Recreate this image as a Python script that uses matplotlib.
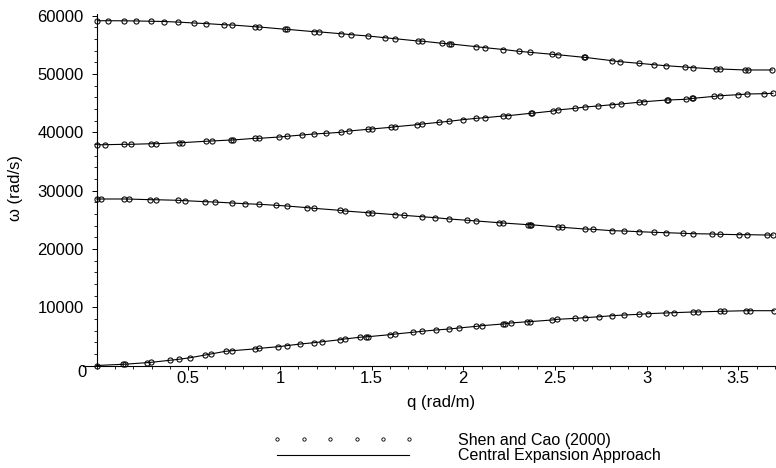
import matplotlib
matplotlib.use("Agg")
import matplotlib.pyplot as plt
from matplotlib.lines import Line2D
from matplotlib.ticker import MultipleLocator, FixedLocator

plt.rcParams['font.family'] = ['Liberation Sans', 'DejaVu Sans']

# ---- data (q in rad/m, omega in rad/s) ----
q1 = [0.0, 0.145, 0.152, 0.272, 0.299, 0.398, 0.447, 0.511, 0.592, 0.623, 0.703, 0.741, 0.864, 0.888,
      0.991, 1.036, 1.112, 1.185, 1.232, 1.33, 1.353, 1.435, 1.471, 1.48, 1.598, 1.629, 1.725, 1.776,
      1.851, 1.924, 1.975, 2.072, 2.101, 2.217, 2.225, 2.259, 2.35, 2.362, 2.482, 2.513, 2.612, 2.663,
      2.743, 2.812, 2.875, 2.96, 3.007, 3.105, 3.147, 3.255, 3.283, 3.4, 3.424, 3.545, 3.564, 3.696]
w1 = [0, 210, 220, 480, 550, 890, 1060, 1340, 1800, 1970, 2440, 2540, 2850, 2950,
      3220, 3400, 3690, 3910, 4080, 4430, 4550, 4840, 4920, 4940, 5280, 5400, 5700, 5870,
      6090, 6260, 6430, 6720, 6830, 7120, 7130, 7290, 7510, 7520, 7800, 7920, 8090, 8200,
      8370, 8540, 8660, 8780, 8890, 9010, 9060, 9180, 9190, 9300, 9310, 9400, 9400, 9400]

q2 = [0.0, 0.022, 0.148, 0.176, 0.293, 0.326, 0.442, 0.484, 0.592, 0.645, 0.741, 0.808, 0.888, 0.978,
      1.036, 1.15, 1.185, 1.326, 1.355, 1.48, 1.504, 1.629, 1.674, 1.776, 1.848, 1.924, 2.022, 2.071,
      2.196, 2.217, 2.355, 2.362, 2.368, 2.515, 2.54, 2.663, 2.708, 2.812, 2.875, 2.96, 3.038, 3.105,
      3.197, 3.252, 3.355, 3.401, 3.505, 3.549, 3.658, 3.69]
w2 = [28560, 28560, 28560, 28550, 28440, 28430, 28340, 28270, 28100, 28040, 27870, 27750, 27650, 27480,
      27360, 27070, 26960, 26620, 26500, 26210, 26160, 25870, 25760, 25520, 25350, 25130, 24910, 24790,
      24490, 24440, 24150, 24150, 24150, 23760, 23700, 23410, 23360, 23120, 23070, 22950, 22850, 22780,
      22680, 22610, 22560, 22500, 22440, 22440, 22380, 22380]

q3 = [0.004, 0.043, 0.148, 0.185, 0.297, 0.326, 0.447, 0.464, 0.594, 0.627, 0.735, 0.743, 0.864, 0.888,
      0.995, 1.036, 1.121, 1.185, 1.25, 1.332, 1.375, 1.48, 1.5, 1.607, 1.629, 1.748, 1.776, 1.87,
      1.924, 1.996, 2.072, 2.12, 2.219, 2.245, 2.368, 2.373, 2.489, 2.515, 2.612, 2.663, 2.734, 2.812,
      2.859, 2.957, 2.988, 3.11, 3.116, 3.214, 3.246, 3.255, 3.37, 3.402, 3.5, 3.547, 3.639, 3.69]
w3 = [37870, 37870, 37940, 37940, 38040, 38040, 38220, 38220, 38460, 38510, 38680, 38680, 38970, 38970,
      39190, 39310, 39540, 39710, 39830, 40000, 40220, 40510, 40570, 40860, 40960, 41300, 41420, 41720,
      41890, 42160, 42400, 42510, 42800, 42850, 43260, 43260, 43650, 43830, 44120, 44340, 44510, 44730,
      44850, 45150, 45250, 45540, 45540, 45660, 45830, 45830, 46170, 46280, 46450, 46570, 46620, 46690]

q4 = [0.004, 0.064, 0.148, 0.214, 0.297, 0.37, 0.446, 0.529, 0.594, 0.696, 0.741, 0.864, 0.888, 1.027,
      1.036, 1.185, 1.212, 1.332, 1.39, 1.48, 1.571, 1.629, 1.752, 1.773, 1.884, 1.924, 1.933, 2.072,
      2.12, 2.219, 2.304, 2.364, 2.485, 2.515, 2.658, 2.663, 2.812, 2.855, 2.957, 3.038, 3.105, 3.21,
      3.255, 3.377, 3.401, 3.536, 3.551, 3.686]
w4 = [59140, 59140, 59120, 59100, 59050, 59000, 58900, 58750, 58650, 58450, 58400, 58110, 58060, 57680,
      57670, 57260, 57230, 56910, 56740, 56520, 56230, 56050, 55660, 55640, 55270, 55150, 55150, 54680,
      54510, 54200, 53890, 53720, 53380, 53310, 52860, 52860, 52280, 52110, 51840, 51600, 51420, 51200,
      51080, 50860, 50860, 50690, 50690, 50690]

branches = [(q1, w1), (q2, w2), (q3, w3), (q4, w4)]

x_major = [0.5, 1, 1.5, 2, 2.5, 3, 3.5]
x_labels = ['0.5', '1', '1.5', '2', '2.5', '3', '3.5']
y_major = [10000, 20000, 30000, 40000, 50000, 60000]
y_labels = ['10000', '20000', '30000', '40000', '50000', '60000']

legend_labels = ['Shen and Cao (2000)', 'Central Expansion Approach']

# ---- figure ----
W, H = 776, 468
fig = plt.figure(figsize=(W / 100, H / 100), dpi=100)
ax_left = 83 / W
ax_bottom = (H - 365.5) / H
ax_h = (365.5 - 13.95) / H
ax = fig.add_axes([ax_left, ax_bottom, 1 - ax_left, ax_h])
ax.set_xlim(-0.0745, 3.706)
ax.set_ylim(0, 60300)

for q, w in branches:
    ax.plot(q, w, color='black', lw=0.8, zorder=2, clip_on=False)
    ax.plot(q, w, ls='none', marker='o', ms=3.7, mfc='none', mec='black', mew=0.75,
            zorder=3, clip_on=False)

for s in ['top', 'right']:
    ax.spines[s].set_visible(False)
ax.spines['left'].set_position(('data', 0))
ax.spines['left'].set_bounds(0, 60300)
for s in ['left', 'bottom']:
    ax.spines[s].set_linewidth(0.8)
    ax.spines[s].set_color('black')

ax.xaxis.set_major_locator(FixedLocator(x_major))
ax.set_xticklabels(x_labels)
ax.xaxis.set_minor_locator(MultipleLocator(0.1))
ax.yaxis.set_major_locator(FixedLocator(y_major))
ax.set_yticklabels(y_labels)
ax.yaxis.set_minor_locator(MultipleLocator(2000))

ax.tick_params(axis='x', which='major', direction='out', length=3.0, width=0.7, pad=0.8, labelsize=12)
ax.tick_params(axis='x', which='minor', direction='out', length=2.0, width=0.6)
ax.tick_params(axis='y', which='major', direction='out', length=3.8, width=0.7, pad=5.5, labelsize=12)
ax.tick_params(axis='y', which='minor', direction='out', length=2.4, width=0.6)

ax.annotate('0', xy=(0, 0), xycoords='data', xytext=(-14.7, -7), textcoords='offset pixels',
            ha='center', va='center', fontsize=12)

ax.set_xlabel('q (rad/m)', fontsize=12)
ax.xaxis.set_label_coords(0.516, -0.085)
ax.set_ylabel('ω (rad/s)', fontsize=12)
ax.yaxis.set_label_coords(-0.0865, 0.505)

handles = [Line2D([], [], ls='none', marker='o', ms=2.4, mfc='none', mec='black', mew=0.6),
           Line2D([], [], color='black', lw=0.8)]
fig.legend(handles, legend_labels, loc='center left',
           bbox_to_anchor=(272.7 / W, (H - 448) / H), bbox_transform=fig.transFigure,
           frameon=False, numpoints=6, handlelength=8.85, handletextpad=2.75,
           labelspacing=0.02, borderpad=0, borderaxespad=0, fontsize=11.5, handleheight=0.7)

fig.savefig('out.png', dpi=100)
